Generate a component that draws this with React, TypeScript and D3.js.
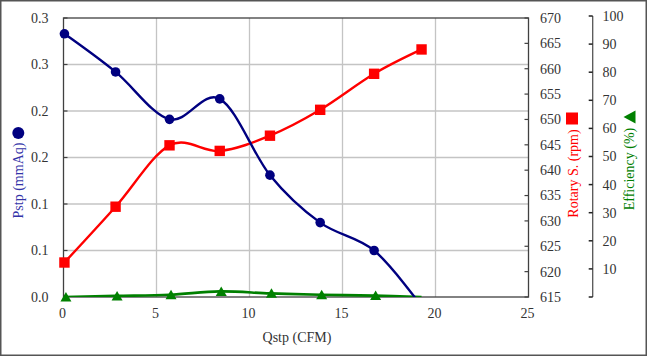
import React from "react";
import * as d3 from "d3";

// ---- data ----
const qValues = [0.05, 2.8, 5.7, 8.4, 11.1, 13.8, 16.7, 19.25];
const pstpValues = [0.283, 0.242, 0.191, 0.213, 0.131, 0.08, 0.05, -0.01];
const rpmValues = [621.8, 632.8, 644.9, 643.8, 646.8, 651.9, 659.0, 663.8];
const effValues = [0, 0.4, 0.8, 2.0, 1.3, 0.8, 0.5, 0];
const markedPoints = 7; // Pstp & efficiency markers on first 7 points

const xTicks = [0, 5, 10, 15, 20, 25];
const pstpTicks = [0, 0.05, 0.1, 0.15, 0.2, 0.25, 0.3];
const pstpTickLabels = ["0.0", "0.1", "0.1", "0.2", "0.2", "0.3", "0.3"];
const rpmTicks = [615, 620, 625, 630, 635, 640, 645, 650, 655, 660, 665, 670];
const effTicks = [0, 10, 20, 30, 40, 50, 60, 70, 80, 90, 100];
const effTickLabels = ["", "10", "20", "30", "40", "50", "60", "70", "80", "90", "100"];

const W = 647;
const H = 356;
const L = 63.5;
const R = 528.5;
const T = 18;
const B = 297;
const EFF_X = 592.7;

const FONT = "'Liberation Serif', 'Times New Roman', serif";
const NAVY = "#000080";
const RED = "#ff0000";
const GREEN = "#008000";

export default function App() {
  const x = d3.scaleLinear().domain([0, 25]).range([L, R]);
  const yP = d3.scaleLinear().domain([0, 0.3]).range([B, T]);
  const yR = d3.scaleLinear().domain([615, 670]).range([B, T]);
  const yE = d3.scaleLinear().domain([0, 100]).range([B, 16]);

  const curve = d3.curveCardinal.tension(0);
  const lineP = d3.line<number>().x((_, i) => x(qValues[i])).y((v) => yP(v)).curve(curve);
  const lineR = d3.line<number>().x((_, i) => x(qValues[i])).y((v) => yR(v)).curve(curve);
  const lineE = d3.line<number>().x((_, i) => x(qValues[i])).y((v) => yE(v)).curve(curve);

  const tickColor = "#333";
  const tri = (cx: number, cy: number, s: number) =>
    `M${cx},${cy - s * 0.5}L${cx + s * 0.55},${cy + s * 0.45}L${cx - s * 0.55},${cy + s * 0.45}Z`;

  return (
    <svg
      width={W}
      height={H}
      style={{ position: "absolute", left: 0, top: 0, background: "#fff" }}
      fontFamily={FONT}
    >
      <defs>
        <clipPath id="plotClip">
          <rect x={L} y={T} width={R - L} height={B - T} />
        </clipPath>
      </defs>
      <rect x={0.75} y={0.75} width={W - 1.5} height={H - 1.5} fill="#fff" stroke="#555" strokeWidth={1.5} />

      {/* gridlines */}
      {pstpTicks.slice(1, -1).map((t) => (
        <line key={"gy" + t} x1={L} x2={R} y1={yP(t)} y2={yP(t)} stroke="#c4c4c4" strokeWidth={1.3} />
      ))}
      {xTicks.slice(1, -1).map((t) => (
        <line key={"gx" + t} x1={x(t)} x2={x(t)} y1={T} y2={B} stroke="#c4c4c4" strokeWidth={1.3} />
      ))}

      {/* plot border */}
      <rect x={L} y={T} width={R - L} height={B - T} fill="none" stroke="#404040" strokeWidth={1.3} />

      {/* left ticks */}
      {pstpTicks.map((t, i) => (
        <g key={"lp" + i}>
          <line x1={L} x2={L + 4} y1={yP(t)} y2={yP(t)} stroke="#404040" strokeWidth={1.2} />
          <text x={48.5} y={yP(t)} dy="0.35em" textAnchor="end" fontSize={14} fill={tickColor}>
            {pstpTickLabels[i]}
          </text>
        </g>
      ))}
      {/* x ticks */}
      {xTicks.map((t) => (
        <text key={"xt" + t} x={x(t) - 1} y={313} dy="0.35em" textAnchor="middle" fontSize={14} fill={tickColor}>
          {t}
        </text>
      ))}
      {/* rpm ticks */}
      {rpmTicks.map((t) => (
        <g key={"rt" + t}>
          <line x1={R - 4} x2={R} y1={yR(t)} y2={yR(t)} stroke="#404040" strokeWidth={1.2} />
          <text x={540} y={yR(t)} dy="0.35em" fontSize={14} fill={tickColor}>
            {t}
          </text>
        </g>
      ))}
      {/* efficiency axis */}
      <line x1={EFF_X} x2={EFF_X} y1={yE(100)} y2={yE(0)} stroke="#555" strokeWidth={1.3} />
      {effTicks.map((t, i) => (
        <g key={"et" + t}>
          <line x1={EFF_X - 4} x2={EFF_X} y1={yE(t)} y2={yE(t)} stroke="#222" strokeWidth={1.5} />
          <text x={602.5} y={yE(t)} dy="0.35em" fontSize={14} fill={tickColor}>
            {effTickLabels[i]}
          </text>
        </g>
      ))}

      {/* series */}
      <g clipPath="url(#plotClip)">
        <path d={lineE(effValues) || ""} fill="none" stroke={GREEN} strokeWidth={2.6} />
        <path d={lineR(rpmValues) || ""} fill="none" stroke={RED} strokeWidth={2.4} />
        <path d={lineP(pstpValues) || ""} fill="none" stroke={NAVY} strokeWidth={2.4} />
      </g>
      {effValues.slice(0, markedPoints).map((v, i) => (
        <path key={"em" + i} d={tri(x(qValues[i]) + 1.5, yE(v), 10)} fill={GREEN} />
      ))}
      {rpmValues.map((v, i) => (
        <rect key={"rm" + i} x={x(qValues[i]) - 5.2} y={yR(v) - 5.2} width={10.4} height={10.4} fill={RED} />
      ))}
      {pstpValues.slice(0, markedPoints).map((v, i) => (
        <circle key={"pm" + i} cx={x(qValues[i])} cy={yP(v)} r={4.8} fill={NAVY} />
      ))}

      {/* axis titles */}
      <text x={297} y={337} dy="0.35em" textAnchor="middle" fontSize={14} fill={tickColor}>
        Qstp (CFM)
      </text>
      <g transform="translate(18.5,180.5) rotate(-90)">
        <text x={0} y={0} dy="0.35em" textAnchor="middle" fontSize={14} fill="#3333a8">
          Pstp (mmAq)
        </text>
      </g>
      <circle cx={18.3} cy={133} r={6} fill={NAVY} />

      <g transform="translate(573,173.5) rotate(-90)">
        <text x={0} y={0} dy="0.35em" textAnchor="middle" fontSize={14} fill={RED}>
          Rotary S. (rpm)
        </text>
      </g>
      <rect x={566} y={112.5} width={12} height={12} fill={RED} />

      <g transform="translate(629.5,169) rotate(-90)">
        <text x={0} y={0} dy="0.35em" textAnchor="middle" fontSize={14} fill={GREEN}>
          Efficiency (%)
        </text>
      </g>
      <path d="M623.5,117L635.5,110.5L635.5,123.5Z" fill={GREEN} />
    </svg>
  );
}
